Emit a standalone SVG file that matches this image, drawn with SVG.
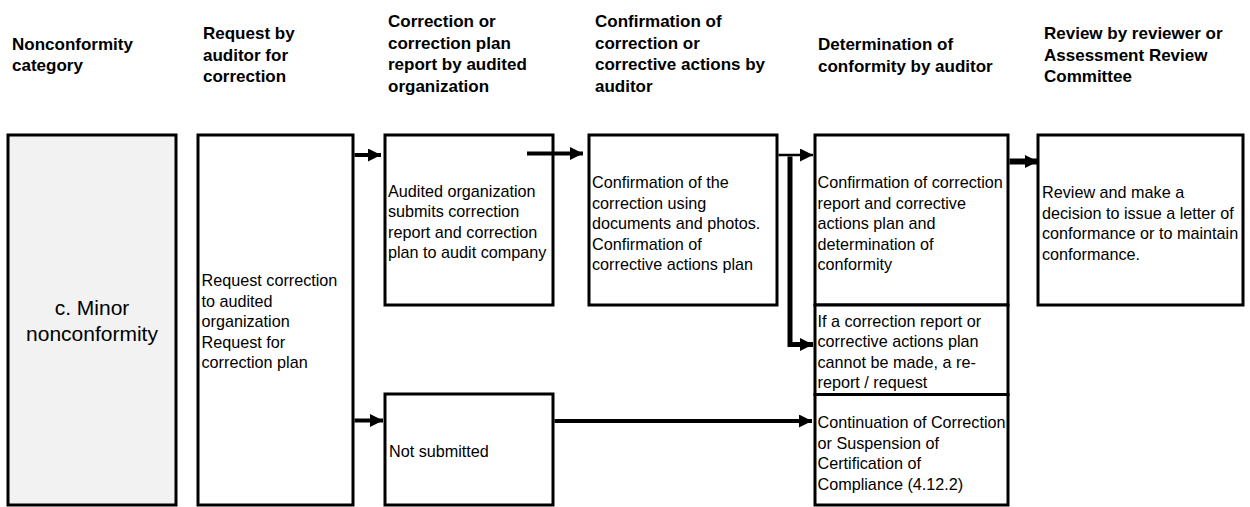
<svg xmlns="http://www.w3.org/2000/svg" width="1250" height="507" viewBox="0 0 1250 507">
<style>
.hd{font-family:"Liberation Sans",Arial,sans-serif;font-size:17px;font-weight:bold;fill:#000}
.tx{font-family:"Liberation Sans",Arial,sans-serif;font-size:16.2px;fill:#000}
.big{font-family:"Liberation Sans",Arial,sans-serif;font-size:21px;fill:#000}
.box{fill:#fff;stroke:#000;stroke-width:3}
.grey{fill:#f2f2f2;stroke:#000;stroke-width:3}
.cn{fill:none;stroke:#000;stroke-linejoin:miter}
</style>
<defs>
<marker id="ah" markerUnits="userSpaceOnUse" markerWidth="13" markerHeight="13" refX="13" refY="6.5" orient="auto">
<path d="M0,0 L13,6.5 L0,13 Z" fill="#000"/>
</marker>
</defs>
<rect width="1250" height="507" fill="#fff"/>
<g id="headers">
<text class="hd" x="12"><tspan x="12" y="49.5">Nonconformity</tspan><tspan x="12" y="71">category</tspan></text>
<text class="hd"><tspan x="203" y="39">Request by</tspan><tspan x="203" y="60.5">auditor for</tspan><tspan x="203" y="82">correction</tspan></text>
<text class="hd"><tspan x="388" y="27">Correction or</tspan><tspan x="388" y="48.5">correction plan</tspan><tspan x="388" y="70">report by audited</tspan><tspan x="388" y="91.5">organization</tspan></text>
<text class="hd"><tspan x="595" y="27">Confirmation of</tspan><tspan x="595" y="48.5">correction or</tspan><tspan x="595" y="70">corrective actions by</tspan><tspan x="595" y="91.5">auditor</tspan></text>
<text class="hd"><tspan x="818" y="50">Determination of</tspan><tspan x="818" y="71.5">conformity by auditor</tspan></text>
<text class="hd"><tspan x="1044" y="39">Review by reviewer or</tspan><tspan x="1044" y="60.5">Assessment Review</tspan><tspan x="1044" y="82">Committee</tspan></text>
</g>
<g id="n-category">
<rect class="grey" x="8" y="135" width="168" height="370"/>
<text class="big" text-anchor="middle"><tspan x="92" y="314.5">c. Minor</tspan><tspan x="92" y="340.5">nonconformity</tspan></text>
</g>
<g id="n-request">
<rect class="box" x="198" y="135" width="155" height="370"/>
<text class="tx"><tspan x="201.5" y="286">Request correction</tspan><tspan x="201.5" y="306.6">to audited</tspan><tspan x="201.5" y="327.2">organization</tspan><tspan x="201.5" y="347.8">Request for</tspan><tspan x="201.5" y="368.4">correction plan</tspan></text>
</g>
<g id="n-submits">
<rect class="box" x="385" y="135" width="168" height="170"/>
<text class="tx"><tspan x="388" y="196.5">Audited organization</tspan><tspan x="388" y="217.1">submits correction</tspan><tspan x="388" y="237.7">report and correction</tspan><tspan x="388" y="258.3">plan to audit company</tspan></text>
</g>
<g id="n-notsubmitted">
<rect class="box" x="385" y="394" width="168" height="111"/>
<text class="tx"><tspan x="389" y="457">Not submitted</tspan></text>
</g>
<g id="n-confirm">
<rect class="box" x="589" y="135" width="188" height="170"/>
<text class="tx"><tspan x="592" y="188">Confirmation of the</tspan><tspan x="592" y="208.6">correction using</tspan><tspan x="592" y="229.2">documents and photos.</tspan><tspan x="592" y="249.8">Confirmation of</tspan><tspan x="592" y="270.4">corrective actions plan</tspan></text>
</g>
<g id="n-determination">
<rect class="box" x="815" y="135" width="193" height="170"/>
<text class="tx"><tspan x="817.5" y="188">Confirmation of correction</tspan><tspan x="817.5" y="208.6">report and corrective</tspan><tspan x="817.5" y="229.2">actions plan and</tspan><tspan x="817.5" y="249.8">determination of</tspan><tspan x="817.5" y="270.4">conformity</tspan></text>
</g>
<g id="n-rereport">
<rect class="box" x="815" y="305" width="193" height="89.5"/>
<text class="tx"><tspan x="817.5" y="326.5">If a correction report or</tspan><tspan x="817.5" y="347">corrective actions plan</tspan><tspan x="817.5" y="367.5">cannot be made, a re-</tspan><tspan x="817.5" y="388">report / request</tspan></text>
</g>
<g id="n-continuation">
<rect class="box" x="815" y="394.5" width="193" height="110.5"/>
<text class="tx"><tspan x="817.5" y="428">Continuation of Correction</tspan><tspan x="817.5" y="448.5">or Suspension of</tspan><tspan x="817.5" y="469">Certification of</tspan><tspan x="817.5" y="489.5">Compliance (4.12.2)</tspan></text>
</g>
<g id="n-review">
<rect class="box" x="1038" y="135" width="205" height="170"/>
<text class="tx"><tspan x="1042" y="198">Review and make a</tspan><tspan x="1042" y="218.6">decision to issue a letter of</tspan><tspan x="1042" y="239.2">conformance or to maintain</tspan><tspan x="1042" y="259.8">conformance.</tspan></text>
</g>
<g id="connectors">
<path class="cn" d="M354.5,155 H381" stroke-width="4" marker-end="url(#ah)"/>
<path class="cn" d="M354.5,420.5 H383" stroke-width="4" marker-end="url(#ah)"/>
<path class="cn" d="M527,153.5 H583" stroke-width="4" marker-end="url(#ah)"/>
<path class="cn" d="M778.5,155 H813" stroke-width="2.5" marker-end="url(#ah)"/>
<path class="cn" d="M790,156.5 V344.5 H813" stroke-width="5" marker-end="url(#ah)"/>
<path class="cn" d="M1009.5,161.5 H1038" stroke-width="6" marker-end="url(#ah)"/>
<path class="cn" d="M554.5,421 H812" stroke-width="4" marker-end="url(#ah)"/>
</g>
</svg>
